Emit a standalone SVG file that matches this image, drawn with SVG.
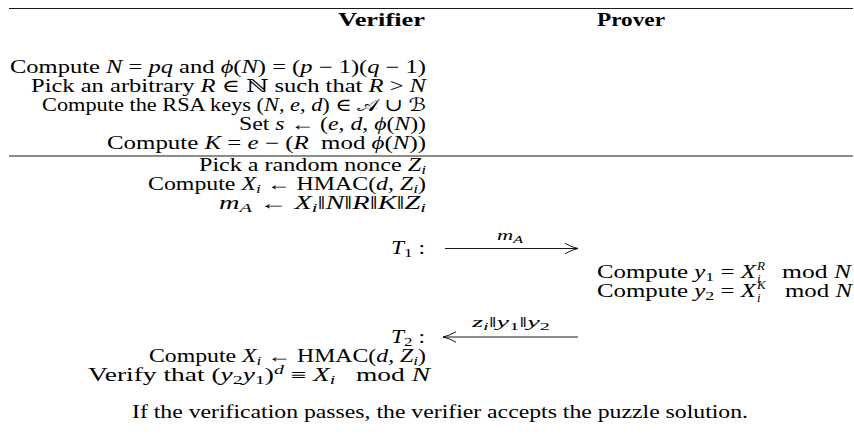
<svg xmlns="http://www.w3.org/2000/svg" width="854" height="434" viewBox="0 0 854 434">
<style>
text{font-family:"Liberation Serif","DejaVu Serif",serif;font-size:18px;fill:#000}
.m{font-style:italic}
.s{font-size:13px}
.b{font-weight:bold}
.l{font-size:14px}
.sym{font-family:"DejaVu Serif","DejaVu Sans",serif}
.rule{stroke:#000;stroke-width:0.9;fill:none}
.arr{stroke:#000;stroke-width:0.9;fill:none}
</style>
<defs>
<marker id="ah" markerUnits="userSpaceOnUse" markerWidth="16" markerHeight="14" refX="13" refY="7" orient="auto" viewBox="0 0 16 14">
<path d="M0,1.8 Q7.5,6 13,7 Q7.5,8 0,12.2" fill="none" stroke="#000" stroke-width="0.9"/>
</marker>
</defs>
<rect width="854" height="434" fill="#fff"/>
<g id="rules">
<line class="rule" x1="9" y1="8.5" x2="853" y2="8.5"/>
<line class="rule" x1="9" y1="156" x2="853" y2="156"/>
</g>
<g id="headers">
<text class="b" x="338" y="26" textLength="87" lengthAdjust="spacingAndGlyphs">Verifier</text>
<text class="b" x="597" y="26" textLength="68" lengthAdjust="spacingAndGlyphs">Prover</text>
</g>
<g id="verifier-setup">
<text x="10" y="73" textLength="416" lengthAdjust="spacingAndGlyphs">Compute <tspan class="m">N</tspan> = <tspan class="m">pq</tspan> and <tspan class="m">ϕ</tspan>(<tspan class="m">N</tspan>) = (<tspan class="m">p</tspan> − 1)(<tspan class="m">q</tspan> − 1)</text>
<text x="31" y="92" textLength="395" lengthAdjust="spacingAndGlyphs">Pick an arbitrary <tspan class="m">R</tspan> ∈ <tspan class="sym">ℕ</tspan> such that <tspan class="m">R</tspan> &gt; <tspan class="m">N</tspan></text>
<text x="42" y="111" textLength="384" lengthAdjust="spacingAndGlyphs">Compute the RSA keys (<tspan class="m">N</tspan>, <tspan class="m">e</tspan>, <tspan class="m">d</tspan>) ∈ <tspan class="sym">𝒜</tspan> ∪ <tspan class="sym">ℬ</tspan></text>
<text x="239" y="130" textLength="187" lengthAdjust="spacingAndGlyphs">Set <tspan class="m">s</tspan> ← (<tspan class="m">e</tspan>, <tspan class="m">d</tspan>, <tspan class="m">ϕ</tspan>(<tspan class="m">N</tspan>))</text>
<text x="107" y="149" textLength="319" lengthAdjust="spacingAndGlyphs">Compute <tspan class="m">K</tspan> = <tspan class="m">e</tspan> − (<tspan class="m">R</tspan>&#160;&#160;mod <tspan class="m">ϕ</tspan>(<tspan class="m">N</tspan>))</text>
</g>
<g id="verifier-challenge">
<text x="199" y="171" textLength="227" lengthAdjust="spacingAndGlyphs">Pick a random nonce <tspan class="m">Z</tspan><tspan class="m s" dy="3">i</tspan></text>
<text x="148" y="190" textLength="278" lengthAdjust="spacingAndGlyphs">Compute <tspan class="m">X</tspan><tspan class="m s" dy="3">i</tspan><tspan dy="-3"> ← HMAC(</tspan><tspan class="m">d</tspan>, <tspan class="m">Z</tspan><tspan class="m s" dy="3">i</tspan><tspan dy="-3">)</tspan></text>
<text x="219" y="209" textLength="207" lengthAdjust="spacingAndGlyphs"><tspan class="m">m</tspan><tspan class="m s" dy="3">A</tspan><tspan dy="-3"> ← </tspan><tspan class="m">X</tspan><tspan class="m s" dy="3">i</tspan><tspan dy="-3">‖</tspan><tspan class="m">N</tspan>‖<tspan class="m">R</tspan>‖<tspan class="m">K</tspan>‖<tspan class="m">Z</tspan><tspan class="m s" dy="3">i</tspan></text>
<text x="391" y="254" textLength="34" lengthAdjust="spacingAndGlyphs"><tspan class="m">T</tspan><tspan class="s" dy="3">1</tspan><tspan dy="-3"> :</tspan></text>
</g>
<g id="prover-response">
<text x="597" y="278" textLength="159" lengthAdjust="spacingAndGlyphs">Compute <tspan class="m">y</tspan><tspan class="s" dy="3">1</tspan><tspan dy="-3"> = </tspan><tspan class="m">X</tspan></text>
<text class="m s" x="757" y="270">R</text>
<text class="m s" x="757" y="283">i</text>
<text x="782" y="278" textLength="69" lengthAdjust="spacingAndGlyphs">mod <tspan class="m">N</tspan></text>
<text x="597" y="297" textLength="159" lengthAdjust="spacingAndGlyphs">Compute <tspan class="m">y</tspan><tspan class="s" dy="3">2</tspan><tspan dy="-3"> = </tspan><tspan class="m">X</tspan></text>
<text class="m s" x="757" y="289">K</text>
<text class="m s" x="757" y="302">i</text>
<text x="785" y="297" textLength="67" lengthAdjust="spacingAndGlyphs">mod <tspan class="m">N</tspan></text>
</g>
<g id="verifier-check">
<text x="391" y="343" textLength="34" lengthAdjust="spacingAndGlyphs"><tspan class="m">T</tspan><tspan class="s" dy="3">2</tspan><tspan dy="-3"> :</tspan></text>
<text x="149" y="362" textLength="277" lengthAdjust="spacingAndGlyphs">Compute <tspan class="m">X</tspan><tspan class="m s" dy="3">i</tspan><tspan dy="-3"> ← HMAC(</tspan><tspan class="m">d</tspan>, <tspan class="m">Z</tspan><tspan class="m s" dy="3">i</tspan><tspan dy="-3">)</tspan></text>
<text x="88" y="381" textLength="342" lengthAdjust="spacingAndGlyphs">Verify that (<tspan class="m">y</tspan><tspan class="s" dy="3">2</tspan><tspan class="m" dy="-3">y</tspan><tspan class="s" dy="3">1</tspan><tspan dy="-3">)</tspan><tspan class="m s" dy="-7">d</tspan><tspan dy="7"> ≡ </tspan><tspan class="m">X</tspan><tspan class="m s" dy="3">i</tspan><tspan dy="-3">&#160;&#160;&#160;mod </tspan><tspan class="m">N</tspan></text>
</g>
<g id="conclusion">
<text x="132" y="418" textLength="616" lengthAdjust="spacingAndGlyphs">If the verification passes, the verifier accepts the puzzle solution.</text>
</g>
<g id="connectors">
<line class="arr" x1="445" y1="248.5" x2="578" y2="248.5" marker-end="url(#ah)"/>
<text class="l" x="497" y="240" textLength="26" lengthAdjust="spacingAndGlyphs"><tspan class="m">m</tspan><tspan class="m" font-size="10" dy="3">A</tspan></text>
<line class="arr" x1="578" y1="337" x2="443" y2="337" marker-end="url(#ah)"/>
<text class="l" x="472" y="327" textLength="78" lengthAdjust="spacingAndGlyphs"><tspan class="m">z</tspan><tspan class="m" font-size="10" dy="3">i</tspan><tspan dy="-3">‖</tspan><tspan class="m">y</tspan><tspan font-size="10" dy="3">1</tspan><tspan dy="-3">‖</tspan><tspan class="m">y</tspan><tspan font-size="10" dy="3">2</tspan></text>
</g>
</svg>
